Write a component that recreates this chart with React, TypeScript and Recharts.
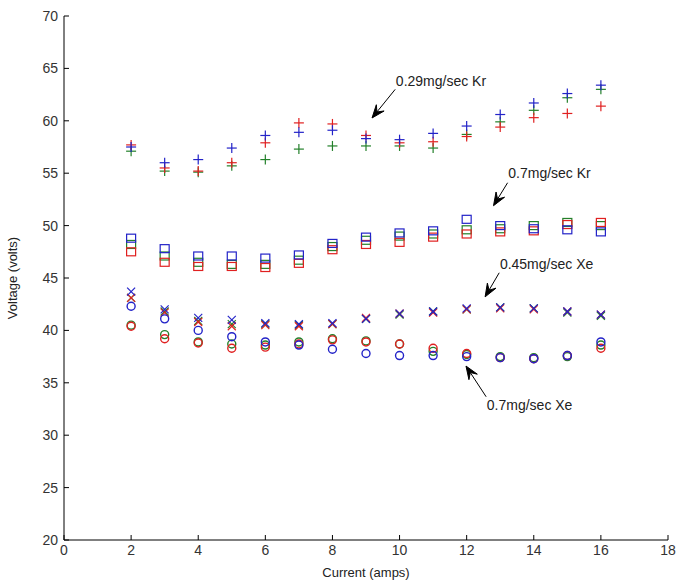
import React from "react";
import {
  ScatterChart,
  Scatter,
  XAxis,
  YAxis,
  ReferenceLine,
  ReferenceDot,
} from "recharts";

const current = [2, 3, 4, 5, 6, 7, 8, 9, 10, 11, 12, 13, 14, 15, 16];

// 0.29 mg/sec Kr (plus markers)
const krLowBlue = [57.5, 56.0, 56.3, 57.4, 58.6, 58.9, 59.1, 58.3, 58.2, 58.8, 59.5, 60.6, 61.7, 62.6, 63.4];
const krLowRed = [57.7, 55.5, 55.2, 56.0, 57.9, 59.8, 59.7, 58.6, 57.9, 58.0, 58.5, 59.4, 60.3, 60.7, 61.4];
const krLowGreen = [57.1, 55.2, 55.1, 55.7, 56.3, 57.3, 57.6, 57.6, 57.6, 57.4, 58.7, 59.9, 61.0, 62.2, 63.0];

// 0.7 mg/sec Kr (square markers)
const krHighBlue = [48.8, 47.8, 47.1, 47.1, 46.9, 47.2, 48.3, 48.9, 49.3, 49.5, 50.6, 50.0, 49.7, 49.6, 49.4];
const krHighRed = [47.5, 46.5, 46.1, 46.1, 46.0, 46.4, 47.7, 48.2, 48.4, 48.9, 49.2, 49.4, 49.5, 50.1, 50.3];
const krHighGreen = [48.2, 47.1, 46.5, 46.3, 46.3, 46.7, 48.0, 48.6, 49.0, 49.2, 49.6, 49.7, 50.0, 50.3, 50.0];

// 0.45 mg/sec Xe (x markers)
const xeLowBlue = [43.7, 42.0, 41.2, 41.0, 40.7, 40.6, 40.7, 41.1, 41.6, 41.8, 42.1, 42.2, 42.1, 41.8, 41.5];
const xeLowRed = [43.1, 41.7, 40.8, 40.4, 40.5, 40.4, 40.6, 41.2, 41.6, 41.7, 42.0, 42.1, 42.0, 41.8, 41.5];
const xeLowGreen = [43.1, 41.8, 40.9, 40.6, 40.6, 40.5, 40.6, 41.1, 41.5, 41.8, 42.0, 42.2, 42.1, 41.7, 41.4];

// 0.7 mg/sec Xe (circle markers)
const xeHighBlue = [42.3, 41.1, 40.0, 39.4, 38.9, 38.6, 38.2, 37.8, 37.6, 37.6, 37.5, 37.4, 37.3, 37.6, 38.9];
const xeHighRed = [40.4, 39.2, 38.8, 38.3, 38.4, 38.7, 39.1, 38.9, 38.7, 38.3, 37.8, 37.4, 37.3, 37.6, 38.3];
const xeHighGreen = [40.5, 39.6, 38.9, 38.7, 38.6, 38.9, 39.2, 39.0, 38.7, 38.0, 37.7, 37.5, 37.4, 37.5, 38.6];

const xTicks = [0, 2, 4, 6, 8, 10, 12, 14, 16, 18];
const yTicks = [20, 25, 30, 35, 40, 45, 50, 55, 60, 65, 70];

const notes = ["0.29mg/sec Kr", "0.7mg/sec Kr", "0.45mg/sec Xe", "0.7mg/sec Xe"];
const noteX = [9.89, 13.24, 12.99, 12.6];
const noteY = [63.83, 54.99, 46.34, 32.88];
const arrowFrom = [
  { x: 9.87, y: 63.0 },
  { x: 13.22, y: 54.09 },
  { x: 12.97, y: 45.5 },
  { x: 12.58, y: 33.67 },
];
const arrowTo = [
  { x: 9.18, y: 60.27 },
  { x: 12.8, y: 51.9 },
  { x: 12.55, y: 43.2 },
  { x: 11.98, y: 36.6 },
];

const BLUE = "#2323c8";
const RED = "#e02020";
const GREEN = "#23802a";
const FONT = "Liberation Sans, Arial, sans-serif";

const toPoints = (vals: number[]) => current.map((c, i) => ({ x: c, y: vals[i] }));

const series = [
  { key: "krLowG", vals: krLowGreen, color: GREEN, marker: "plus" },
  { key: "krLowR", vals: krLowRed, color: RED, marker: "plus" },
  { key: "krLowB", vals: krLowBlue, color: BLUE, marker: "plus" },
  { key: "krHighG", vals: krHighGreen, color: GREEN, marker: "square" },
  { key: "krHighR", vals: krHighRed, color: RED, marker: "square" },
  { key: "krHighB", vals: krHighBlue, color: BLUE, marker: "square" },
  { key: "xeLowG", vals: xeLowGreen, color: GREEN, marker: "cross" },
  { key: "xeLowR", vals: xeLowRed, color: RED, marker: "cross" },
  { key: "xeLowB", vals: xeLowBlue, color: BLUE, marker: "cross" },
  { key: "xeHighG", vals: xeHighGreen, color: GREEN, marker: "circle" },
  { key: "xeHighR", vals: xeHighRed, color: RED, marker: "circle" },
  { key: "xeHighB", vals: xeHighBlue, color: BLUE, marker: "circle" },
];

const makeShape = (marker: string, color: string) => (props: any) => {
  const { cx, cy } = props;
  if (cx == null || cy == null) return <g />;
  if (marker === "plus") {
    return (
      <g stroke={color} strokeWidth={1.2}>
        <line x1={cx - 5} y1={cy} x2={cx + 5} y2={cy} />
        <line x1={cx} y1={cy - 5} x2={cx} y2={cy + 5} />
      </g>
    );
  }
  if (marker === "square") {
    return <rect x={cx - 4.5} y={cy - 4} width={9} height={8} fill="none" stroke={color} strokeWidth={1.2} />;
  }
  if (marker === "cross") {
    return (
      <g stroke={color} strokeWidth={1.2}>
        <line x1={cx - 4} y1={cy - 4} x2={cx + 4} y2={cy + 4} />
        <line x1={cx - 4} y1={cy + 4} x2={cx + 4} y2={cy - 4} />
      </g>
    );
  }
  return <circle cx={cx} cy={cy} r={4} fill="none" stroke={color} strokeWidth={1.4} />;
};

const arrowShape = (props: any) => {
  const { x1, y1, x2, y2 } = props;
  if ([x1, y1, x2, y2].some((v) => v == null || isNaN(v))) return <g />;
  const ang = Math.atan2(y2 - y1, x2 - x1);
  const len = 13;
  const half = 5;
  const bx = x2 - len * Math.cos(ang);
  const by = y2 - len * Math.sin(ang);
  const nx = -Math.sin(ang);
  const ny = Math.cos(ang);
  const ix = x2 - len * 0.6 * Math.cos(ang);
  const iy = y2 - len * 0.6 * Math.sin(ang);
  const pts = [
    [x2, y2],
    [bx + nx * half, by + ny * half],
    [ix, iy],
    [bx - nx * half, by - ny * half],
  ]
    .map((p) => p.join(","))
    .join(" ");
  return (
    <g>
      <line x1={x1} y1={y1} x2={ix} y2={iy} stroke="#000" strokeWidth={1} />
      <polygon points={pts} fill="#000" stroke="#000" strokeWidth={1} />
    </g>
  );
};

const noteShape = (text: string) => (props: any) => (
  <text x={props.cx} y={props.cy} dy="0.35em" fill="#222" fontSize={14} fontFamily={FONT}>
    {text}
  </text>
);

const tickStyle = { fill: "#333", fontSize: 14, fontFamily: FONT };
const noTick = () => <g />;

export default function App() {
  return (
    <div style={{ position: "absolute", left: 0, top: 0, background: "#fff" }}>
      <ScatterChart width={677} height={582} margin={{ top: 16, right: 9, bottom: 0, left: 20 }}>
        <XAxis
          xAxisId="b"
          type="number"
          dataKey="x"
          domain={[0, 18]}
          ticks={xTicks}
          tick={tickStyle}
          tickSize={-5}
          tickMargin={10}
          height={42}
          stroke="#000"
          tickLine={{ stroke: "#000" }}
          label={{ value: "Current (amps)", position: "insideBottom", offset: 5, fill: "#222", fontSize: 13, fontFamily: FONT }}
        />
        <XAxis
          xAxisId="t"
          orientation="top"
          type="number"
          dataKey="x"
          domain={[0, 18]}
          ticks={xTicks}
          tick={noTick}
          tickSize={-5}
          height={0}
          stroke="#000"
          tickLine={{ stroke: "#000" }}
        />
        <YAxis
          yAxisId="l"
          type="number"
          dataKey="y"
          domain={[20, 70]}
          ticks={yTicks}
          tick={tickStyle}
          tickSize={-5}
          tickMargin={11}
          width={44}
          stroke="#000"
          tickLine={{ stroke: "#000" }}
          label={{ value: "Voltage (volts)", angle: -90, position: "insideLeft", offset: -8, fill: "#222", fontSize: 13, fontFamily: FONT, style: { textAnchor: "middle" } }}
        />
        <YAxis
          yAxisId="r"
          orientation="right"
          type="number"
          dataKey="y"
          domain={[20, 70]}
          ticks={yTicks}
          tick={noTick}
          tickSize={-5}
          width={0}
          stroke="#000"
          tickLine={{ stroke: "#000" }}
        />
        {series.map((s) => (
          <Scatter
            key={s.key}
            xAxisId="b"
            yAxisId="l"
            data={toPoints(s.vals)}
            shape={makeShape(s.marker, s.color)}
            isAnimationActive={false}
          />
        ))}
        {notes.map((n, i) => (
          <ReferenceLine
            key={"a" + i}
            xAxisId="b"
            yAxisId="l"
            segment={[arrowFrom[i], arrowTo[i]]}
            shape={arrowShape}
          />
        ))}
        {notes.map((n, i) => (
          <ReferenceDot
            key={"n" + i}
            xAxisId="b"
            yAxisId="l"
            x={noteX[i]}
            y={noteY[i]}
            shape={noteShape(n)}
          />
        ))}
      </ScatterChart>
    </div>
  );
}
